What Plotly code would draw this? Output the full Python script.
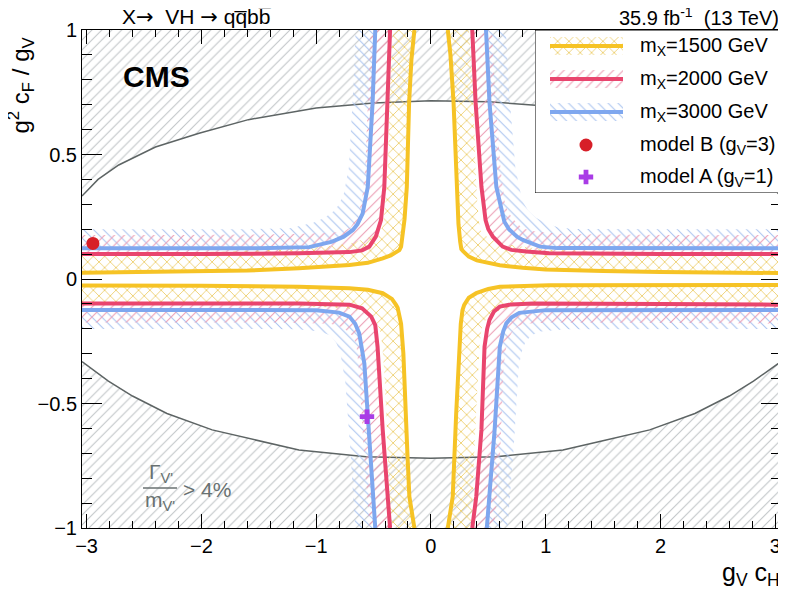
import plotly.graph_objects as go

FONT = "Liberation Sans, Arial, Helvetica, sans-serif"

# ---- data ----
MASSES = [1500, 2000, 3000]

# Gamma/m > 4% boundaries
GRAY_TOP_X = [-3.04, -2.9, -2.72, -2.4, -2.02, -1.59, -1.0, -0.5, 0.0, 0.5, 1.0, 1.59, 2.02, 2.4, 2.72, 2.9, 3.05]
GRAY_TOP_Y = [0.333, 0.40, 0.458, 0.53, 0.585, 0.64, 0.687, 0.707, 0.716, 0.712, 0.695, 0.64, 0.585, 0.53, 0.458, 0.40, 0.333]
GRAY_BOT_X = [-3.04, -2.81, -2.6, -2.3, -1.906, -1.47, -1.15, -0.566, 0.0, 0.566, 1.15, 1.47, 1.906, 2.3, 2.6, 2.81, 3.05]
GRAY_BOT_Y = [-0.332, -0.41, -0.47, -0.54, -0.606, -0.653, -0.687, -0.714, -0.72, -0.714, -0.687, -0.653, -0.606, -0.54, -0.47, -0.41, -0.332]

# m_X = 1500 GeV contour, one branch per quadrant
M1500_UR_X = [0.147, 0.17, 0.197, 0.215, 0.222, 0.24, 0.255, 0.265, 0.28, 0.295, 0.33, 0.40, 0.5, 0.6, 0.8, 1.0, 1.5, 2.0, 3.05]
M1500_UR_Y = [1.0, 0.9, 0.71, 0.5, 0.37, 0.22, 0.15, 0.12, 0.112, 0.105, 0.09, 0.075, 0.063, 0.055, 0.045, 0.038, 0.032, 0.028, 0.024]
M1500_UL_X = [-0.144, -0.17, -0.19, -0.21, -0.23, -0.245, -0.26, -0.275, -0.30, -0.35, -0.42, -0.55, -0.71, -1.15, -1.6, -2.2, -3.04]
M1500_UL_Y = [1.0, 0.88, 0.71, 0.37, 0.24, 0.17, 0.13, 0.116, 0.108, 0.095, 0.083, 0.065, 0.056, 0.043, 0.034, 0.029, 0.025]
M1500_LL_X = [-0.144, -0.188, -0.205, -0.217, -0.24, -0.26, -0.275, -0.29, -0.304, -0.34, -0.42, -0.55, -0.71, -1.15, -2.0, -3.04]
M1500_LL_Y = [-1.0, -0.874, -0.7, -0.54, -0.3, -0.18, -0.138, -0.115, -0.104, -0.08, -0.057, -0.043, -0.037, -0.031, -0.027, -0.026]
M1500_LR_X = [0.147, 0.19, 0.22, 0.24, 0.26, 0.275, 0.29, 0.33, 0.395, 0.5, 0.6, 1.03, 2.0, 3.05]
M1500_LR_Y = [-1.0, -0.874, -0.54, -0.35, -0.18, -0.125, -0.104, -0.075, -0.057, -0.04, -0.031, -0.025, -0.024, -0.024]

# m_X = 2000 GeV
M2000_UR_X = [0.36, 0.389, 0.44, 0.476, 0.50, 0.54, 0.625, 0.7, 0.83, 1.03, 2.0, 3.05]
M2000_UR_Y = [1.0, 0.71, 0.37, 0.237, 0.2, 0.17, 0.13, 0.117, 0.11, 0.103, 0.10, 0.10]
M2000_UL_X = [-0.356, -0.377, -0.406, -0.435, -0.48, -0.537, -0.6, -0.71, -1.15, -2.0, -3.04]
M2000_UL_Y = [1.0, 0.71, 0.37, 0.237, 0.17, 0.13, 0.115, 0.108, 0.103, 0.10, 0.10]
M2000_LL_X = [-0.356, -0.377, -0.42, -0.465, -0.485, -0.52, -0.6, -0.71, -1.15, -2.0, -3.04]
M2000_LL_Y = [-1.0, -0.874, -0.606, -0.272, -0.185, -0.151, -0.118, -0.103, -0.098, -0.098, -0.098]
M2000_LR_X = [0.36, 0.395, 0.44, 0.467, 0.49, 0.51, 0.55, 0.6, 0.7, 0.89, 2.0, 3.05]
M2000_LR_Y = [-1.0, -0.874, -0.606, -0.272, -0.2, -0.165, -0.13, -0.111, -0.102, -0.098, -0.10, -0.103]

# m_X = 3000 GeV
M3000_UR_X = [0.48, 0.51, 0.57, 0.61, 0.64, 0.68, 0.75, 0.8, 0.89, 0.95, 1.1, 2.0, 3.05]
M3000_UR_Y = [1.0, 0.71, 0.37, 0.28, 0.23, 0.2, 0.17, 0.157, 0.14, 0.13, 0.124, 0.123, 0.123]
M3000_UL_X = [-0.485, -0.508, -0.55, -0.595, -0.64, -0.68, -0.76, -0.86, -1.06, -1.5, -3.04]
M3000_UL_Y = [1.0, 0.71, 0.37, 0.263, 0.22, 0.197, 0.17, 0.15, 0.128, 0.123, 0.123]
M3000_LL_X = [-0.485, -0.502, -0.537, -0.58, -0.625, -0.66, -0.71, -0.8, -1.0, -1.5, -3.04]
M3000_LL_Y = [-1.0, -0.874, -0.606, -0.339, -0.218, -0.18, -0.151, -0.135, -0.126, -0.124, -0.124]
M3000_LR_X = [0.487, 0.51, 0.555, 0.6, 0.63, 0.657, 0.7, 0.77, 1.0, 3.05]
M3000_LR_Y = [-1.0, -0.874, -0.606, -0.272, -0.21, -0.178, -0.155, -0.136, -0.125, -0.124]

MODEL_B_X = [-2.945]
MODEL_B_Y = [0.143]
MODEL_A_X = [-0.557]
MODEL_A_Y = [-0.553]

# ---- styling ----
# the page body keeps its default 8px margin, so the figure is shrunk by that much
OFF = 8
W, H = 786 - OFF, 594 - OFF
MARGIN = dict(l=82 - OFF, r=5, t=30 - OFF, b=66)
X_RANGE = [-3.04, 3.05]
Y_RANGE = [-1.0, 1.0]
PLOT_W = W - MARGIN["l"] - MARGIN["r"]
PLOT_H = H - MARGIN["t"] - MARGIN["b"]
BAND_PX = 19

LINE_COLOR = {1500: "#f6c325", 2000: "#e9456e", 3000: "#7ea7ef"}
HATCH = {1500: ("x", "#eccd68", 8, 0.2), 2000: ("/", "#eb9bb3", 7, 0.15),
         3000: ("\\", "#a9c3f0", 7, 0.15)}
GRAY_HATCH = "#c0c4c7"
GRAY_LINE = "#5d6464"
LABEL_GRAY = "#687171"
ARROW = '<span style="font-family:DejaVu Sans">\u2192</span>'

CURVES = {
    1500: [(M1500_UR_X, M1500_UR_Y, 1, 1), (M1500_UL_X, M1500_UL_Y, -1, 1),
           (M1500_LL_X, M1500_LL_Y, -1, -1), (M1500_LR_X, M1500_LR_Y, 1, -1)],
    2000: [(M2000_UR_X, M2000_UR_Y, 1, 1), (M2000_UL_X, M2000_UL_Y, -1, 1),
           (M2000_LL_X, M2000_LL_Y, -1, -1), (M2000_LR_X, M2000_LR_Y, 1, -1)],
    3000: [(M3000_UR_X, M3000_UR_Y, 1, 1), (M3000_UL_X, M3000_UL_Y, -1, 1),
           (M3000_LL_X, M3000_LL_Y, -1, -1), (M3000_LR_X, M3000_LR_Y, 1, -1)],
}


def px(x, y):
    """Reference-picture pixel -> paper coordinates."""
    return ((x - OFF - MARGIN["l"]) / PLOT_W, (H - MARGIN["b"] - (y - OFF)) / PLOT_H)


def band(xs, ys, sx, sy):
    """Hatched band on the excluded side of a contour, BAND_PX wide."""
    dx = sx * BAND_PX * (X_RANGE[1] - X_RANGE[0]) / PLOT_W
    dy = sy * BAND_PX * (Y_RANGE[1] - Y_RANGE[0]) / PLOT_H
    bx = list(xs) + [x + dx for x in reversed(xs)]
    by = list(ys) + [y + dy for y in reversed(ys)]
    return bx, by


def pattern(shape, color, size=8, solidity=0.14):
    return dict(shape=shape, fgcolor=color, bgcolor="rgba(0,0,0,0)",
                size=size, solidity=solidity, fillmode="replace")


fig = go.Figure()

# Gamma/m > 4% regions
for gx, gy, edge in [(GRAY_TOP_X, GRAY_TOP_Y, 1.1), (GRAY_BOT_X, GRAY_BOT_Y, -1.1)]:
    fig.add_trace(go.Scatter(
        x=gx + [3.2, -3.2], y=gy + [edge, edge],
        fill="toself", fillcolor="rgba(0,0,0,0)", fillpattern=pattern("/", GRAY_HATCH, 7, 0.15),
        mode="none", hoverinfo="skip", showlegend=False))
for gx, gy in [(GRAY_TOP_X, GRAY_TOP_Y), (GRAY_BOT_X, GRAY_BOT_Y)]:
    fig.add_trace(go.Scatter(x=gx, y=gy, mode="lines", line=dict(color=GRAY_LINE, width=1.5),
                             hoverinfo="skip", showlegend=False))

# hatched bands
for m in reversed(MASSES):
    shape, hcol, hsize, hsol = HATCH[m]
    for xs, ys, sx, sy in CURVES[m]:
        bx, by = band(xs, ys, sx, sy)
        fig.add_trace(go.Scatter(
            x=bx, y=by, fill="toself", fillcolor="rgba(0,0,0,0)",
            fillpattern=pattern(shape, hcol, hsize, hsol),
            mode="none", hoverinfo="skip", showlegend=False))

# contour lines
for m in MASSES:
    for xs, ys, sx, sy in CURVES[m]:
        fig.add_trace(go.Scatter(x=xs, y=ys, mode="lines",
                                 line=dict(color=LINE_COLOR[m], width=4),
                                 name=f"m_X={m} GeV", showlegend=False))

# benchmark models
fig.add_trace(go.Scatter(x=MODEL_B_X, y=MODEL_B_Y, mode="markers",
                         marker=dict(symbol="circle", size=13, color="#d71f28"), showlegend=False))
fig.add_trace(go.Scatter(x=MODEL_A_X, y=MODEL_A_Y, mode="markers",
                         marker=dict(symbol="cross", size=12, color="#a93ce6"), showlegend=False))

# ---- hand-made legend in its own overlay axes (pixel-like units) ----
LEG_W, LEG_H = 246, 163
fig.add_trace(go.Scatter(x=[0, LEG_W, LEG_W, 0, 0], y=[0, 0, LEG_H, LEG_H, 0],
                         xaxis="x2", yaxis="y2", mode="lines", fill="toself",
                         fillcolor="white", line=dict(color="black", width=1),
                         hoverinfo="skip", showlegend=False))
leg_rows = [147, 114, 81]
for m, yl in zip(MASSES, leg_rows):
    shape, hcol, hsize, hsol = HATCH[m]
    fig.add_trace(go.Scatter(x=[15, 88, 88, 15, 15], y=[yl - 9, yl - 9, yl + 9, yl + 9, yl - 9],
                             xaxis="x2", yaxis="y2", mode="none", fill="toself",
                             fillcolor="rgba(0,0,0,0)",
                             fillpattern=pattern(shape, hcol, hsize, hsol),
                             hoverinfo="skip", showlegend=False))
    fig.add_trace(go.Scatter(x=[15, 88], y=[yl, yl], xaxis="x2", yaxis="y2", mode="lines",
                             line=dict(color=LINE_COLOR[m], width=4),
                             hoverinfo="skip", showlegend=False))
fig.add_trace(go.Scatter(x=[51], y=[48], xaxis="x2", yaxis="y2", mode="markers",
                         marker=dict(symbol="circle", size=13, color="#d71f28"),
                         hoverinfo="skip", showlegend=False))
fig.add_trace(go.Scatter(x=[51], y=[16], xaxis="x2", yaxis="y2", mode="markers",
                         marker=dict(symbol="cross", size=12, color="#a93ce6"),
                         hoverinfo="skip", showlegend=False))

leg_text = [f"m<sub>X</sub>={m} GeV" for m in MASSES] + [
    "model B (g<sub>V</sub>=3)", "model A (g<sub>V</sub>=1)"]
annotations = []
for txt, yl in zip(leg_text, leg_rows + [48, 16]):
    annotations.append(dict(x=103, y=yl, xref="x2", yref="y2", text=txt, showarrow=False,
                            xanchor="left", yanchor="middle",
                            font=dict(family=FONT, size=20, color="black")))


def label(x, y, text, size, color="black", **kw):
    ax, ay = px(x, y)
    d = dict(x=ax, y=ay, xref="paper", yref="paper", text=text, showarrow=False,
             xanchor="left", yanchor="middle", font=dict(family=FONT, size=size, color=color))
    d.update(kw)
    return d


annotations += [
    label(120, 17, "X" + ARROW + "  VH " + ARROW + " qq\u0305bb\u0305", 21),
    label(781, 17, "35.9 fb<sup>-1</sup>  (13 TeV)", 20, xanchor="right"),
    label(121, 77, "<b>CMS</b>", 30),
    label(20, 34, "g<sup>2</sup> c<sub>F</sub> / g<sub>V</sub>", 24, textangle=-90,
          xanchor="center", yanchor="top"),
    label(782, 574, "g<sub>V</sub> c<sub>H</sub>", 25, xanchor="right"),
    label(161, 473, "\u0393<sub>V'</sub>", 21, LABEL_GRAY, xanchor="center"),
    label(160, 501, "m<sub>V'</sub>", 21, LABEL_GRAY, xanchor="center"),
    label(181, 490, "> 4%", 21, LABEL_GRAY),
]

lx0, ly = px(143, 488)
lx1, _ = px(177, 488)
shapes = [dict(type="line", xref="paper", yref="paper", x0=lx0, x1=lx1, y0=ly, y1=ly,
               line=dict(color=LABEL_GRAY, width=1.5))]

axis_common = dict(showline=True, linecolor="black", linewidth=1, mirror="ticks",
                   ticks="inside", tickcolor="black", tickwidth=1, showgrid=False,
                   zeroline=False, tickfont=dict(family=FONT, size=20, color="black"))

leg_x0, leg_y0 = px(535, 193)
fig.update_layout(
    width=W, height=H, margin=MARGIN,
    paper_bgcolor="white", plot_bgcolor="white",
    font=dict(family=FONT, color="black"),
    showlegend=False,
    xaxis=dict(range=X_RANGE, tick0=0, dtick=1, ticklen=14,
               minor=dict(ticks="inside", ticklen=7, tick0=0, dtick=0.2, tickcolor="black"),
               **axis_common),
    yaxis=dict(range=Y_RANGE, tick0=0, dtick=0.5, ticklen=20,
               minor=dict(ticks="inside", ticklen=10, tick0=0, dtick=0.1, tickcolor="black"),
               **axis_common),
    xaxis2=dict(domain=[leg_x0, 1], anchor="y2", range=[0, LEG_W],
                visible=False, fixedrange=True),
    yaxis2=dict(domain=[leg_y0, 1], anchor="x2", range=[0, LEG_H],
                visible=False, fixedrange=True),
    annotations=annotations,
    shapes=shapes,
)

fig.write_html("out.html")
